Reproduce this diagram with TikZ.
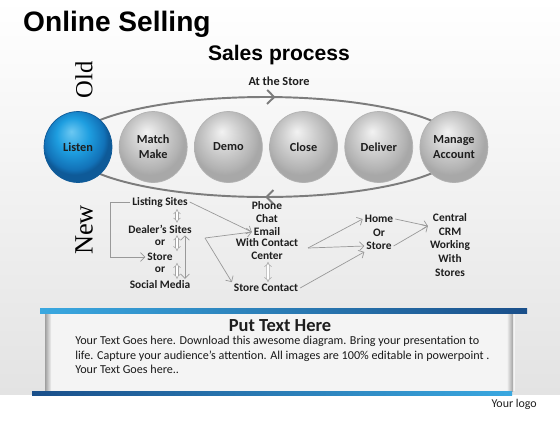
\documentclass[tikz,border=0pt]{standalone}
\usepackage{fontspec}
\usepackage{tikz}
\usetikzlibrary{shapes.geometric, arrows.meta, positioning, decorations.markings}
\newfontfamily\carlito{Carlito}
\newfontfamily\headfont{Liberation Sans}
\newfontfamily\oldfont{Liberation Serif}
\definecolor{loopgray}{HTML}{7C7C7C}
\definecolor{bluelight}{HTML}{6CC8F2}
\definecolor{bluemid}{HTML}{1E9EE0}
\definecolor{bluedeep}{HTML}{1272B8}
\definecolor{blueedge}{HTML}{0E5A98}
\definecolor{barlight}{HTML}{3AA8E0}
\definecolor{bardark}{HTML}{1A4F8A}
\definecolor{inkgray}{HTML}{1E1E1E}
\pgfdeclareradialshading{graysphere}{\pgfqpoint{-5bp}{11bp}}{color(0bp)=(gray!10); color(12bp)=(gray!38); color(22bp)=(gray!60); color(25bp)=(gray!68); color(50bp)=(gray!68)}
\pgfdeclareradialshading{bluesphere}{\pgfqpoint{-5bp}{11bp}}{color(0bp)=(bluelight); color(12bp)=(bluemid); color(22bp)=(bluedeep); color(25bp)=(blueedge); color(50bp)=(blueedge)}

\begin{document}
\begin{tikzpicture}[x=0.02cm, y=-0.02cm,
        ball/.style={ellipse, minimum width=1.36cm, minimum height=1.42cm, inner sep=0pt, draw=gray!60, shading=graysphere, font=\carlito\fontsize{7}{8.5}\selectfont\bfseries, align=center, text=inkgray},
        lbl/.style={font=\carlito\fontsize{6.5}{7.7}\selectfont\bfseries, align=center, text=inkgray, inner sep=1pt},
        cycleline/.style={loopgray, line width=1.1pt, postaction={decorate}, decoration={markings, mark=at position #1 with {\arrow{Straight Barb[length=4pt]}}}},
        arrow/.style={-{Straight Barb[length=2.5pt]}, gray!80, line width=0.4pt},
        twoway/.style={{Straight Barb[length=2.5pt]}-{Straight Barb[length=2.5pt]}, gray!80, line width=0.4pt},
        updown/.style={double=white, draw=gray!70, double distance=1.2pt, {Implies}-{Implies}, line width=0.3pt}
    ]
        \useasboundingbox (0,0) rectangle (560,420);
        % background
        \shade[top color=white, bottom color=gray!22] (0,0) rectangle (560,395);
        \fill[white] (0,395) rectangle (560,420);

        % headings
        \node (title) [font=\headfont\fontsize{16}{18}\selectfont\bfseries, anchor=west] at (17,24) {Online Selling};
        \node (sales) [font=\headfont\fontsize{12}{14}\selectfont\bfseries] at (279,55) {Sales process};
        \node (atstore) [lbl, font=\carlito\fontsize{7}{8}\selectfont\bfseries] at (279,81) {At the Store};
        \node (old) [font=\oldfont\fontsize{14}{14}\selectfont, rotate=90] at (84,80) {Old};
        \node (new) [font=\oldfont\fontsize{15}{15}\selectfont, rotate=90] at (84,230) {New};

        % sales cycle
        \coordinate (loopw) at (69,147);
        \coordinate (loope) at (461,147);
        \draw [cycleline=0.525] (loopw) arc[start angle=180, end angle=0, x radius=3.92cm, y radius=1cm];
        \draw [cycleline=0.5] (loope) arc[start angle=0, end angle=-180, x radius=3.92cm, y radius=1cm];

        \node (listen) [ball, shading=bluesphere, draw=blueedge] at (78,147) {Listen};
        \node (match) [ball, right=0.13cm of listen] {Match\\Make};
        \node (demo) [ball, right=0.13cm of match] {Demo};
        \node (close) [ball, right=0.13cm of demo] {Close};
        \node (deliver) [ball, right=0.13cm of close] {Deliver};
        \node (manage) [ball, right=0.13cm of deliver] {Manage\\Account};

        % new channels
        \node (listing) [lbl] at (160,202) {Listing Sites};
        \node (dealer) [lbl] at (160,229) {Dealer’s Sites};
        \node (dor) [lbl] at (160,243) {or};
        \node (store) [lbl] at (160,257) {Store};
        \node (sor) [lbl] at (160,270) {or};
        \node (social) [lbl] at (160,285) {Social Media};

        \node (phone) [lbl] at (267,206) {Phone};
        \node (chat) [lbl] at (267,219) {Chat};
        \node (email) [lbl] at (267,232) {Email};
        \node (contact) [lbl] at (267,249) {With Contact\\Center};
        \node (storecont) [lbl] at (266,288) {Store Contact};

        \node (home) [lbl] at (379,219) {Home};
        \node (hor) [lbl] at (379,233) {Or};
        \node (hstore) [lbl] at (379,246) {Store};
        \node (crm) [lbl] at (450,245) {Central\\CRM\\Working\\With\\Stores};

        \coordinate (fork) at (205,238);
        \coordinate (fork2) at (308,248);
        \coordinate (crmin) at ([yshift=0.38cm]crm.west);

        \draw [arrow] (listing.west) -- ++(-20,0) |- (store.west);
        \draw [updown] ([xshift=0.34cm]listing.south) -- ([xshift=0.34cm]dealer.north);
        \draw [updown] ([xshift=0.34cm]dealer.south) -- ([xshift=0.34cm]store.north);
        \draw [updown] ([xshift=0.34cm]store.south) -- ([xshift=0.34cm]social.north);
        \draw [twoway] ([xshift=0.5cm]dealer.south) -- ([xshift=0.5cm]social.north);
        \draw [updown] ([xshift=0.02cm]contact.south) -- ([xshift=0.04cm]storecont.north);

        \draw [arrow] (listing.east) -- (email.west);
        \draw [arrow] (fork) -- (email.west);
        \draw [arrow] (fork) -- (storecont.north west);
        \draw [arrow] (fork2) -- (home.west);
        \draw [arrow] (fork2) -- (hstore.west);
        \draw [arrow] (storecont.east) -- (hstore.south west);
        \draw [arrow] (home.east) -- (crmin);
        \draw [arrow] (hstore.east) -- (crmin);

        % text panel
        \fill[gray!9] (45,313) rectangle (515,391);
        \shade[left color=gray!75, right color=gray!12] (45,313) rectangle (51,391);
        \shade[left color=gray!12, right color=gray!75] (507,313) rectangle (513,391);
        \shade[left color=barlight, right color=bardark] (40,308) rectangle (527,313);
        \shade[left color=bardark, right color=barlight] (32,391) rectangle (512,395);

        \node (puttext) [font=\carlito\fontsize{10.5}{12}\selectfont\bfseries, text=inkgray] at (280,326) {Put Text Here};
        \node (body) [font=\carlito\fontsize{6.9}{8.2}\selectfont, align=left, anchor=north west, text=gray!20!black, inner sep=0pt] at (75,336) {Your Text Goes here. Download this awesome diagram. Bring your presentation to\\life. Capture your audience’s attention. All images are 100\% editable in powerpoint .\\Your Text Goes here..};
        \node (logo) [font=\carlito\fontsize{6.8}{8}\selectfont, anchor=east, text=inkgray] at (543,404) {Your logo};
    \end{tikzpicture}
\end{document}
